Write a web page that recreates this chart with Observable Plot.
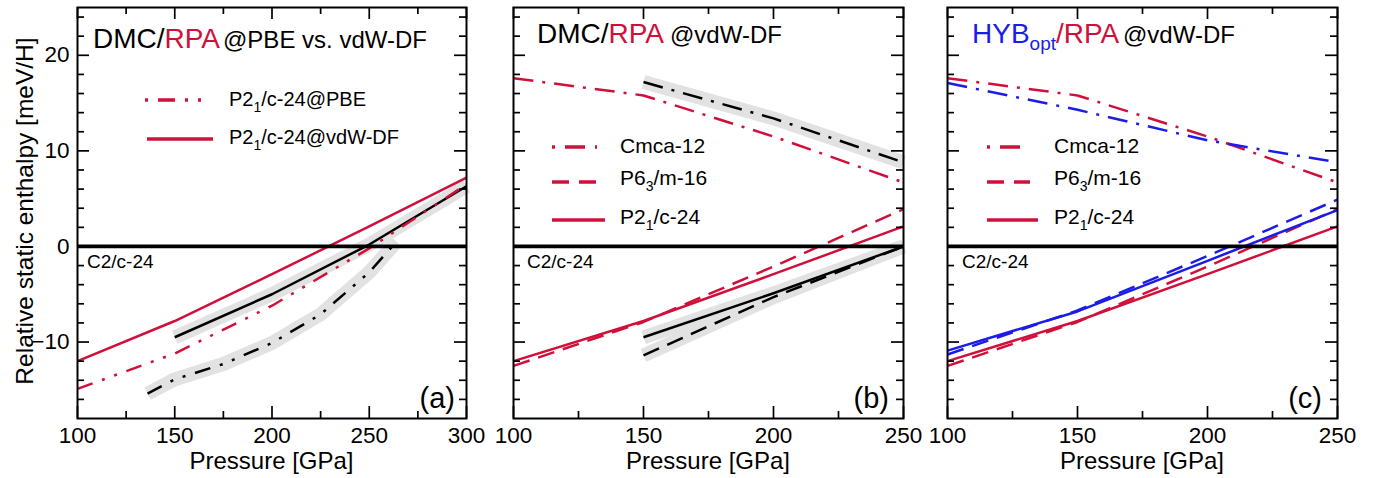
<!DOCTYPE html>
<html><head><meta charset="utf-8">
<script src="https://cdn.jsdelivr.net/npm/d3@7"></script>
<script src="https://cdn.jsdelivr.net/npm/@observablehq/plot@0.6"></script>
<style>
html,body{margin:0;padding:0;background:#fff;}
#chart{position:relative;width:1376px;height:478px;overflow:hidden;}
#chart svg{position:absolute;top:0;overflow:visible;}
</style></head><body><div id="chart"></div>
<script>
// ---------- data (pressure in GPa, relative static enthalpy in meV/H) ----------
// Panel (a): DMC/RPA @PBE vs. vdW-DF
const pA_rpaPBE = [100, 150, 200, 250, 300];
const hA_rpaPBE = [-14.9, -11.2, -6.2, -0.2, 6.5];
const pA_rpaVdw = [100, 150, 200, 250, 300];
const hA_rpaVdw = [-12.0, -7.8, -2.9, 2.1, 7.2];
const pA_dmcVdw = [150, 200, 250, 300];
const hA_dmcVdw = [-9.5, -5.0, 0.2, 6.3];
const pA_dmcPBE = [136, 150, 175, 200, 225, 250, 264];
const hA_dmcPBE = [-15.4, -13.9, -12.3, -10.1, -7.1, -2.7, 0.5];
// Panel (b): DMC/RPA @vdW-DF
const pB = [100, 150, 200, 250];
const hB_rpaCmca = [17.6, 15.8, 11.5, 6.7];
const hB_rpaP63 = [-12.5, -7.9, -2.1, 3.9];
const hB_rpaP21 = [-12.0, -7.8, -2.9, 2.1];
const pB_dmc = [150, 200, 250];
const hB_dmcCmca = [17.2, 13.4, 8.8];
const hB_dmcP63 = [-11.4, -5.3, 0.0];
const hB_dmcP21 = [-9.5, -4.9, 0.0];
// Panel (c): HYB_opt/RPA @vdW-DF
const pC = [100, 150, 200, 250];
const hC_hybCmca = [17.1, 14.3, 11.1, 8.8];
const hC_hybP63 = [-11.3, -6.7, -1.0, 4.9];
const hC_hybP21 = [-10.9, -6.8, -1.5, 3.8];
// ticks
const xMajorA = [100, 150, 200, 250, 300];
const xMinorA = [125, 175, 225, 275];
const xMajorBC = [100, 150, 200, 250];
const xMinorBC = [125, 175, 225];
const yMajor = [-10, 0, 10, 20];
const yMinor = [-16, -14, -12, -8, -6, -4, -2, 2, 4, 6, 8, 12, 14, 16, 18, 22, 24];
const yDomain = [-18, 25];

// ---------- styles ----------
const RED = "#d0103a", BLUE = "#1c1ce8", BAND = "#e2e2e2";
const FONT = "'Liberation Sans', Arial, Helvetica, sans-serif";
const DASH = "17,9", DASHDOT = "20,9,3,9", DASHDOTDOT = "16,10,3,10,3,10";
const H = 478, MT = 7, MB = 60;

const rows = (ps, hs) => ps.map((p, i) => ({p, h: hs[i]}));

function panel({left, width, ml, mr, xDomain, xMajor, xMinor, series, yLabels}) {
  const iw = width - ml - mr, ih = H - MT - MB;
  const L = 12, S = 7, sw = 1.7;
  const marks = [];
  for (const s of series) if (s.band)
    marks.push(Plot.line(rows(s.p, s.h), {x: "p", y: "h", stroke: BAND, strokeWidth: 14, strokeLinecap: "butt"}));
  for (const s of series)
    marks.push(Plot.line(rows(s.p, s.h), {x: "p", y: "h", stroke: s.color, strokeWidth: 2.5,
      strokeDasharray: s.dash, strokeLinecap: "butt"}));
  marks.push(
    Plot.ruleY([0], {strokeWidth: 3.8}),
    Plot.frame({strokeWidth: 2}),
    Plot.ruleX(xMajor, {insetTop: ih - L, strokeWidth: sw}),
    Plot.ruleX(xMajor, {insetBottom: ih - L, strokeWidth: sw}),
    Plot.ruleX(xMinor, {insetTop: ih - S, strokeWidth: sw}),
    Plot.ruleX(xMinor, {insetBottom: ih - S, strokeWidth: sw}),
    Plot.ruleY(yMajor, {insetRight: iw - L, strokeWidth: sw}),
    Plot.ruleY(yMajor, {insetLeft: iw - L, strokeWidth: sw}),
    Plot.ruleY(yMinor, {insetRight: iw - S, strokeWidth: sw}),
    Plot.ruleY(yMinor, {insetLeft: iw - S, strokeWidth: sw}),
    Plot.axisX(xMajor, {anchor: "bottom", tickSize: 0, tickPadding: 9, label: null, fontSize: 22.5})
  );
  if (yLabels) marks.push(Plot.axisY(yMajor, {anchor: "left", tickSize: 0, tickPadding: 8, label: null, fontSize: 22.5}));
  const svg = Plot.plot({
    width, height: H, marginTop: MT, marginBottom: MB, marginLeft: ml, marginRight: mr,
    x: {domain: xDomain},
    y: {domain: yDomain, axis: yLabels ? undefined : null},
    style: {fontFamily: FONT, fontSize: "22.5px", overflow: "visible", background: "transparent", color: "black"},
    marks
  });
  svg.style.left = left + "px";
  document.getElementById("chart").appendChild(svg);
  const g = d3.select(svg).append("g").attr("font-family", FONT).attr("fill", "black");
  // x axis title
  g.append("text").attr("x", ml + iw / 2).attr("y", 469).attr("text-anchor", "middle")
    .attr("font-size", 24).text("Pressure [GPa]");
  return {svg, g, left};
}

function addText(g, x, y, size, parts, anchor = "start") {
  const t = g.append("text").attr("x", x).attr("y", y).attr("font-size", size).attr("text-anchor", anchor);
  for (const pt of parts) {
    const ts = t.append("tspan").text(pt.t);
    if (pt.fill) ts.attr("fill", pt.fill);
    if (pt.size) ts.attr("font-size", pt.size);
    if (pt.dy) ts.attr("dy", pt.dy);
    if (pt.x != null) ts.attr("x", pt.x);
  }
  return t;
}
function legendLine(g, x1, x2, y, color, dash, offset = 0) {
  g.append("line").attr("x1", x1).attr("x2", x2).attr("y1", y).attr("y2", y)
    .attr("stroke", color).attr("stroke-width", 3.6).attr("stroke-dasharray", dash || null)
    .attr("stroke-dashoffset", offset);
}

// ---------- panel (a) ----------
const A = panel({
  left: 0, width: 490, ml: 77, mr: 24, xDomain: [100, 300], xMajor: xMajorA, xMinor: xMinorA, yLabels: true,
  series: [
    {p: pA_dmcVdw, h: hA_dmcVdw, color: "black", band: true},
    {p: pA_dmcPBE, h: hA_dmcPBE, color: "black", band: true, dash: DASHDOTDOT},
    {p: pA_rpaVdw, h: hA_rpaVdw, color: RED},
    {p: pA_rpaPBE, h: hA_rpaPBE, color: RED, dash: DASHDOTDOT}
  ]
});
{
  const g = A.g, o = A.left;
  g.append("text").attr("transform", "translate(33,211) rotate(-90)").attr("text-anchor", "middle")
    .attr("font-size", 24.5).text("Relative static enthalpy [meV/H]");
  addText(g, 93 - o, 48, 28, [{t: "DMC/"}, {t: "RPA", fill: RED}, {t: "@PBE vs. vdW-DF", size: 24, x: 223 - o}]);
  legendLine(g, 145 - o, 203 - o, 100, RED, "17,10,3,10,3,10", 40);
  addText(g, 229 - o, 106, 20, [{t: "P2"}, {t: "1", size: 14, dy: 6}, {t: "/c-24@PBE", dy: -6}]);
  legendLine(g, 147 - o, 213 - o, 139, RED, null);
  addText(g, 229 - o, 144, 20, [{t: "P2"}, {t: "1", size: 14, dy: 6}, {t: "/c-24@vdW-DF", dy: -6}]);
  addText(g, 87 - o, 268, 19, [{t: "C2/c-24"}]);
  addText(g, 455 - o, 408, 29, [{t: "(a)"}], "end");
}

// ---------- panel (b) ----------
const B = panel({
  left: 490, width: 440, ml: 23, mr: 27, xDomain: [100, 250], xMajor: xMajorBC, xMinor: xMinorBC, yLabels: false,
  series: [
    {p: pB_dmc, h: hB_dmcCmca, color: "black", band: true, dash: DASHDOT},
    {p: pB_dmc, h: hB_dmcP21, color: "black", band: true},
    {p: pB_dmc, h: hB_dmcP63, color: "black", band: true, dash: DASH},
    {p: pB, h: hB_rpaCmca, color: RED, dash: DASHDOT},
    {p: pB, h: hB_rpaP63, color: RED, dash: DASH},
    {p: pB, h: hB_rpaP21, color: RED}
  ]
});
{
  const g = B.g, o = B.left;
  addText(g, 537 - o, 43, 28, [{t: "DMC/"}, {t: "RPA", fill: RED}, {t: "@vdW-DF", size: 24, x: 670 - o}]);
  legendLine(g, 552 - o, 597 - o, 147, RED, "20,10,3,10", 30);
  addText(g, 620 - o, 153, 21, [{t: "Cmca-12"}]);
  legendLine(g, 552 - o, 597 - o, 182, RED, "17,10");
  addText(g, 620 - o, 185, 21, [{t: "P6"}, {t: "3", size: 14, dy: 6}, {t: "/m-16", dy: -6}]);
  legendLine(g, 552 - o, 605 - o, 220, RED, null);
  addText(g, 620 - o, 224, 21, [{t: "P2"}, {t: "1", size: 14, dy: 6}, {t: "/c-24", dy: -6}]);
  addText(g, 527 - o, 268, 19, [{t: "C2/c-24"}]);
  addText(g, 889 - o, 408, 29, [{t: "(b)"}], "end");
}

// ---------- panel (c) ----------
const C = panel({
  left: 930, width: 446, ml: 17, mr: 39, xDomain: [100, 250], xMajor: xMajorBC, xMinor: xMinorBC, yLabels: false,
  series: [
    {p: pB, h: hB_rpaCmca, color: RED, dash: DASHDOT},
    {p: pB, h: hB_rpaP63, color: RED, dash: DASH},
    {p: pB, h: hB_rpaP21, color: RED},
    {p: pC, h: hC_hybCmca, color: BLUE, dash: DASHDOT},
    {p: pC, h: hC_hybP63, color: BLUE, dash: DASH},
    {p: pC, h: hC_hybP21, color: BLUE}
  ]
});
{
  const g = C.g, o = C.left;
  addText(g, 972 - o, 43, 28, [{t: "HYB", fill: BLUE}, {t: "opt", fill: BLUE, size: 19, dy: 7},
    {t: "/RPA", fill: RED, dy: -7}, {t: "@vdW-DF", size: 24, x: 1123 - o}]);
  legendLine(g, 987 - o, 1030 - o, 147, RED, "20,10,3,10", 30);
  addText(g, 1054 - o, 153, 21, [{t: "Cmca-12"}]);
  legendLine(g, 987 - o, 1030 - o, 182, RED, "17,10");
  addText(g, 1054 - o, 185, 21, [{t: "P6"}, {t: "3", size: 14, dy: 6}, {t: "/m-16", dy: -6}]);
  legendLine(g, 987 - o, 1038 - o, 220, RED, null);
  addText(g, 1054 - o, 224, 21, [{t: "P2"}, {t: "1", size: 14, dy: 6}, {t: "/c-24", dy: -6}]);
  addText(g, 962 - o, 268, 19, [{t: "C2/c-24"}]);
  addText(g, 1322 - o, 408, 29, [{t: "(c)"}], "end");
}
</script></body></html>
